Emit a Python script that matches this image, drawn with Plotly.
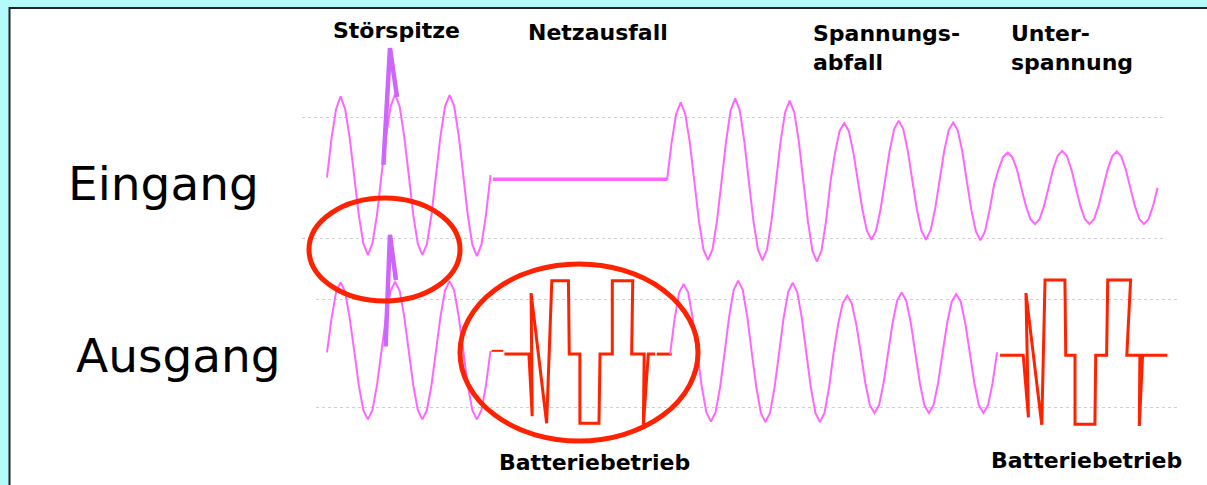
import numpy as np
import plotly.graph_objects as go

W, H = 1207, 485

# ---- data (time in ms, voltage in units of the dotted grid lines) ----
STEP = 20 / 12  # 12 samples per 50 Hz period

eingang_1 = [
    0.00, 0.65, 1.13, 1.34, 1.13, 0.65, 0.02, -0.62, -1.09, -1.28, -1.09, -0.62,
    0.04, 0.68, 1.17, 1.38, 1.17, 0.68, 0.04, -0.62, -1.10, -1.28, -1.10, -0.62,
    0.04, 0.69, 1.18, 1.36, 1.18, 0.69, 0.04, -0.62, -1.11, -1.30, -1.11, -0.62,
    0.04,
]
netzausfall_t = [60.9, 124.8]
netzausfall_v = [-0.03, -0.03]
eingang_2 = [
    -0.04, 0.58, 1.05, 1.24, 1.05, 0.58, -0.06, -0.71, -1.19, -1.36, -1.19, -0.71,
    -0.06, 0.60, 1.11, 1.31, 1.11, 0.60, -0.06, -0.71, -1.19, -1.37, -1.19, -0.71,
    -0.06, 0.60, 1.08, 1.27, 1.08, 0.60, -0.06, -0.72, -1.21, -1.39, -1.21, -0.72,
    -0.06, 0.42, 0.77, 0.90, 0.77, 0.42, -0.05, -0.53, -0.88, -1.03, -0.88, -0.53,
    -0.05, 0.44, 0.80, 0.94, 0.80, 0.44, -0.05, -0.53, -0.88, -1.03, -0.88, -0.53,
    -0.05, 0.43, 0.78, 0.91, 0.78, 0.43, -0.06, -0.54, -0.89, -1.04, -0.89, -0.54,
    -0.12, 0.14, 0.34, 0.41, 0.34, 0.14, -0.17, -0.47, -0.69, -0.77, -0.69, -0.47,
    -0.17, 0.14, 0.36, 0.44, 0.36, 0.14, -0.17, -0.47, -0.69, -0.77, -0.69, -0.47,
    -0.17, 0.13, 0.35, 0.43, 0.35, 0.13, -0.17, -0.47, -0.69, -0.77, -0.69, -0.47,
    -0.17,
]
eingang_2_start = 124.8
spitze_ein_t = [20.7, 23.1, 25.7]
spitze_ein_v = [0.21, 2.14, 1.33]

ausgang_1 = [
    0.01, 0.64, 1.13, 1.31, 1.13, 0.64, 0.04, -0.60, -1.06, -1.23, -1.06, -0.60,
    0.04, 0.68, 1.15, 1.32, 1.15, 0.68, 0.04, -0.60, -1.06, -1.23, -1.06, -0.60,
    0.04, 0.68, 1.16, 1.33, 1.16, 0.68, 0.04, -0.60, -1.06, -1.23, -1.06, -0.60,
    0.04,
]
spitze_aus_t = [21.5, 23.1, 25.3]
spitze_aus_v = [0.12, 2.19, 1.35]
ausgang_2 = [
    -0.02, 0.63, 1.12, 1.28, 1.12, 0.63, 0.00, -0.64, -1.10, -1.27, -1.10, -0.64,
    0.00, 0.67, 1.17, 1.34, 1.17, 0.67, 0.00, -0.64, -1.11, -1.28, -1.11, -0.64,
    0.00, 0.65, 1.13, 1.30, 1.13, 0.65, 0.00, -0.64, -1.11, -1.28, -1.11, -0.64,
    0.00, 0.53, 0.92, 1.06, 0.92, 0.53, 0.00, -0.56, -0.97, -1.11, -0.97, -0.56,
    0.00, 0.56, 0.97, 1.12, 0.97, 0.56, 0.00, -0.56, -0.97, -1.11, -0.97, -0.56,
    0.00, 0.55, 0.95, 1.09, 0.95, 0.55, 0.00, -0.56, -0.97, -1.11, -0.97, -0.56,
    0.01,
]
ausgang_2_start = 125.9

# battery (inverter) output
batt_a_t = [65.1, 74.1, 75.3, 74.9, 80.6, 82.5, 88.6, 88.9, 92.8, 92.8, 99.8, 100.2,
            104.7, 104.7, 112.2, 111.8, 116.4, 116.1, 117.9, 120.4]
batt_a_v = [-0.02, -0.02, -1.17, 1.11, -1.30, 1.34, 1.34, -0.02, -0.02, -1.30, -1.30, -0.02,
            -0.02, 1.34, 1.34, -0.02, -0.02, -1.33, -0.02, -0.02]
batt_pre_t = [60.4, 64.7]
batt_pre_v = [0.04, 0.04]
batt_post_t = [121.0, 126.5]
batt_post_v = [-0.02, -0.02]
batt_b_t = [247.0, 255.5, 257.4, 256.5, 262.3, 263.5, 270.8, 271.1, 274.5, 274.5, 281.8, 282.1,
            286.1, 286.5, 294.9, 293.5, 298.3, 298.1, 299.3, 308.4]
batt_b_v = [-0.04, -0.04, -1.19, 1.11, -1.33, 1.35, 1.35, -0.04, -0.04, -1.32, -1.32, -0.04,
            -0.04, 1.35, 1.35, -0.04, -0.04, -1.35, -0.04, -0.04]

PINK = "#FF66FF"
VIOLET = "#CC66FF"
RED = "#FF2200"


def px(x):
    return x / W


def py(y):
    return 1 - y / H


def times(start, n):
    return start + np.arange(n) * STEP


fig = go.Figure()

# Eingang (top)
fig.add_trace(go.Scatter(x=times(0, len(eingang_1)), y=eingang_1, mode="lines",
                         line=dict(color=PINK, width=2), xaxis="x", yaxis="y"))
fig.add_trace(go.Scatter(x=netzausfall_t, y=netzausfall_v, mode="lines",
                         line=dict(color=PINK, width=3.5), xaxis="x", yaxis="y"))
fig.add_trace(go.Scatter(x=times(eingang_2_start, len(eingang_2)), y=eingang_2, mode="lines",
                         line=dict(color=PINK, width=2), xaxis="x", yaxis="y"))
fig.add_trace(go.Scatter(x=spitze_ein_t, y=spitze_ein_v, mode="lines",
                         line=dict(color=VIOLET, width=4.5), xaxis="x", yaxis="y"))

# Ausgang (bottom)
fig.add_trace(go.Scatter(x=times(0, len(ausgang_1)), y=ausgang_1, mode="lines",
                         line=dict(color=PINK, width=2), xaxis="x2", yaxis="y2"))
fig.add_trace(go.Scatter(x=spitze_aus_t, y=spitze_aus_v, mode="lines",
                         line=dict(color=VIOLET, width=4.5), xaxis="x2", yaxis="y2"))
fig.add_trace(go.Scatter(x=batt_pre_t, y=batt_pre_v, mode="lines",
                         line=dict(color=RED, width=2), xaxis="x2", yaxis="y2"))
fig.add_trace(go.Scatter(x=batt_a_t, y=batt_a_v, mode="lines",
                         line=dict(color=RED, width=3), xaxis="x2", yaxis="y2"))
fig.add_trace(go.Scatter(x=batt_post_t, y=batt_post_v, mode="lines",
                         line=dict(color=RED, width=3), xaxis="x2", yaxis="y2"))
fig.add_trace(go.Scatter(x=times(ausgang_2_start, len(ausgang_2)), y=ausgang_2, mode="lines",
                         line=dict(color=PINK, width=2), xaxis="x2", yaxis="y2"))
fig.add_trace(go.Scatter(x=batt_b_t, y=batt_b_v, mode="lines",
                         line=dict(color=RED, width=3), xaxis="x2", yaxis="y2"))

# axes: pixel -> ms is 2.725 px per ms, signal starts at x=327
K, X0 = 2.725, 327
grid = dict(showgrid=True, gridcolor="#CFCFCF", griddash="dot", gridwidth=1,
            tickvals=[-1, 1], showticklabels=False, zeroline=False, showline=False, ticks="")
noax = dict(showgrid=False, zeroline=False, showline=False, showticklabels=False, ticks="")

fig.update_layout(
    width=W, height=H,
    margin=dict(l=0, r=0, t=0, b=0),
    paper_bgcolor="#B3FAFA",
    plot_bgcolor="rgba(0,0,0,0)",
    showlegend=False,
    hovermode=False,
    xaxis=dict(domain=[px(302), px(1166)], range=[(302 - X0) / K, (1166 - X0) / K],
               anchor="y", **noax),
    yaxis=dict(domain=[py(300), py(20)], range=[(177.5 - 300) / 60.5, (177.5 - 20) / 60.5],
               anchor="x", **grid),
    xaxis2=dict(domain=[px(316), px(1180)], range=[(316 - X0) / K, (1180 - X0) / K],
                anchor="y2", **noax),
    yaxis2=dict(domain=[py(445), py(220)], range=[(353 - 445) / 54, (353 - 220) / 54],
                anchor="x2", **grid),
)

# white slide panel
fig.add_shape(type="rect", xref="paper", yref="paper", layer="below",
              x0=px(9.5), x1=1.05, y0=-0.05, y1=py(8),
              fillcolor="white", line=dict(color="#222222", width=2))

# highlight ellipses
for x0, x1, y0, y1 in [(309, 460, 198, 301), (460, 698, 264, 441)]:
    fig.add_shape(type="circle", xref="paper", yref="paper",
                  x0=px(x0), x1=px(x1), y0=py(y1), y1=py(y0),
                  line=dict(color=RED, width=5))

big = dict(family="DejaVu Sans", size=47, color="black")
bold = dict(family="DejaVu Sans", size=22, color="black", weight="bold")
labels = [
    ("Eingang", 66, 183, big),
    ("Ausgang", 74, 355, big),
    ("Störspitze", 331, 30, bold),
    ("Netzausfall", 526, 33, bold),
    ("Spannungs-<br>abfall", 811, 48, bold),
    ("Unter-<br>spannung", 1009, 48, bold),
    ("Batteriebetrieb", 497, 462, bold),
    ("Batteriebetrieb", 989, 460, bold),
]
for text, x, y, f in labels:
    fig.add_annotation(text=text, xref="paper", yref="paper", x=px(x), y=py(y),
                       xanchor="left", yanchor="middle", align="left",
                       showarrow=False, font=f)

fig.write_html("out.html", config={"displayModeBar": False},
               post_script="document.body.style.margin='0px';")
